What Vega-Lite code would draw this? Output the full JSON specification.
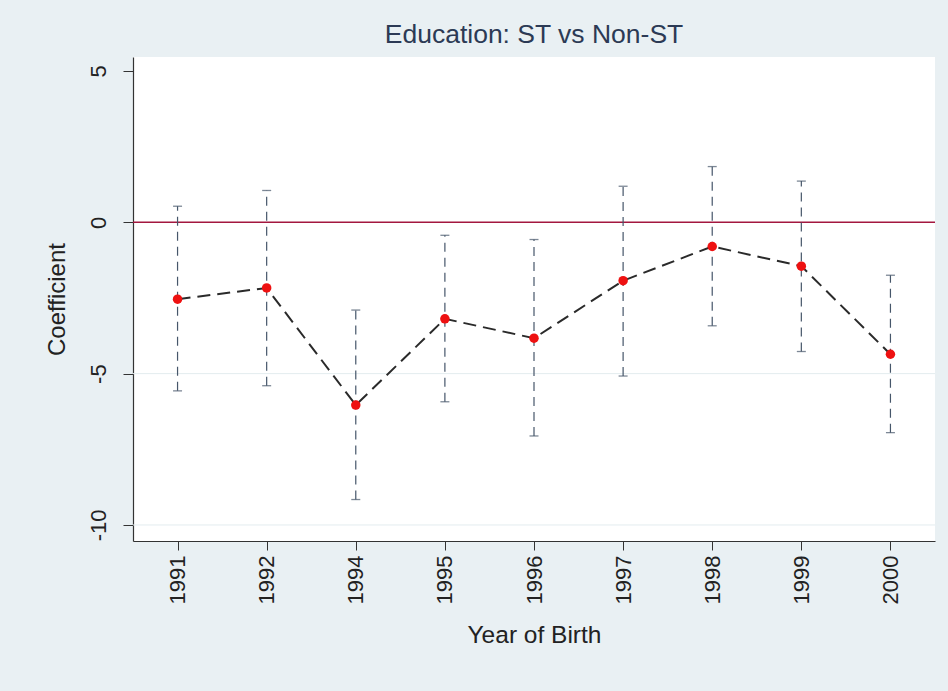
{
  "$schema": "https://vega.github.io/schema/vega-lite/v6.json",
  "autosize": {"type": "none"},
  "width": 802,
  "height": 484,
  "padding": {"left": 133, "top": 57, "right": 13, "bottom": 150},
  "background": "#e9f0f3",
  "config": {"view": {"fill": "white", "stroke": null}, "font": "Liberation Sans"},
  "title": {"text": "Education: ST vs Non-ST", "fontSize": 26.5, "fontWeight": "normal", "color": "#2c3a55", "anchor": "middle", "offset": 9, "font": "Liberation Sans"},
  "data": {"values": [
    {"year": "1991", "coef": -2.54, "lo": -5.57, "hi": 0.53},
    {"year": "1992", "coef": -2.17, "lo": -5.40, "hi": 1.05},
    {"year": "1994", "coef": -6.04, "lo": -9.16, "hi": -2.90},
    {"year": "1995", "coef": -3.19, "lo": -5.93, "hi": -0.43},
    {"year": "1996", "coef": -3.83, "lo": -7.06, "hi": -0.57},
    {"year": "1997", "coef": -1.93, "lo": -5.08, "hi": 1.19},
    {"year": "1998", "coef": -0.80, "lo": -3.42, "hi": 1.84},
    {"year": "1999", "coef": -1.45, "lo": -4.27, "hi": 1.36},
    {"year": "2000", "coef": -4.36, "lo": -6.95, "hi": -1.75}
  ]},
  "resolve": {"scale": {"y": "shared", "x": "shared"}},
  "layer": [
    {
      "data": {"values": [{"g": -5}, {"g": -10}]},
      "mark": {"type": "rule", "color": "#e3ecef", "strokeWidth": 1},
      "encoding": {
        "y": {"field": "g", "type": "quantitative", "scale": {"domain": [-10.53, 5.46], "nice": false, "zero": false}, "axis": {
          "values": [-10, -5, 0, 5], "title": "Coefficient", "grid": false,
          "labelExpr": "'' + datum.value",
          "labelAngle": -90, "labelAlign": "center", "labelBaseline": "bottom",
          "labelFontSize": 22, "labelColor": "#222222", "labelPadding": 13,
          "tickSize": 10, "tickColor": "#333333", "domainColor": "#333333", "domainWidth": 1.2,
          "titleFontSize": 24, "titleFontWeight": "normal", "titleColor": "#222222", "titlePadding": 18
        }}
      }
    },
    {
      "data": {"values": [{"z": 0}]},
      "mark": {"type": "rule", "color": "#a3173f", "strokeWidth": 1.6},
      "encoding": {"y": {"field": "z", "type": "quantitative"}}
    },
    {
      "mark": {"type": "rule", "color": "#46566a", "strokeWidth": 1.2, "strokeDash": [9, 6]},
      "encoding": {
        "x": {"field": "year", "type": "ordinal", "sort": null, "scale": {"type": "point", "padding": 0.5}, "axis": {
          "title": "Year of Birth", "grid": false,
          "labelAngle": -90, "labelAlign": "right", "labelBaseline": "middle",
          "labelFontSize": 22, "labelColor": "#222222", "labelPadding": 5,
          "tickSize": 9, "tickColor": "#333333", "domainColor": "#333333", "domainWidth": 1.2,
          "titleFontSize": 24.5, "titleFontWeight": "normal", "titleColor": "#222222", "titlePadding": 20
        }},
        "y": {"field": "lo", "type": "quantitative"},
        "y2": {"field": "hi"}
      }
    },
    {
      "mark": {"type": "tick", "orient": "horizontal", "color": "#46566a", "size": 9, "thickness": 1.3},
      "encoding": {
        "x": {"field": "year", "type": "ordinal", "sort": null},
        "y": {"field": "lo", "type": "quantitative"}
      }
    },
    {
      "mark": {"type": "tick", "orient": "horizontal", "color": "#46566a", "size": 9, "thickness": 1.3},
      "encoding": {
        "x": {"field": "year", "type": "ordinal", "sort": null},
        "y": {"field": "hi", "type": "quantitative"}
      }
    },
    {
      "mark": {"type": "line", "color": "#2a2a2a", "strokeWidth": 2, "strokeDash": [13, 7]},
      "encoding": {
        "x": {"field": "year", "type": "ordinal", "sort": null},
        "y": {"field": "coef", "type": "quantitative"}
      }
    },
    {
      "mark": {"type": "point", "filled": true, "color": "#ee1111", "opacity": 1, "size": 90},
      "encoding": {
        "x": {"field": "year", "type": "ordinal", "sort": null},
        "y": {"field": "coef", "type": "quantitative"}
      }
    }
  ]
}
